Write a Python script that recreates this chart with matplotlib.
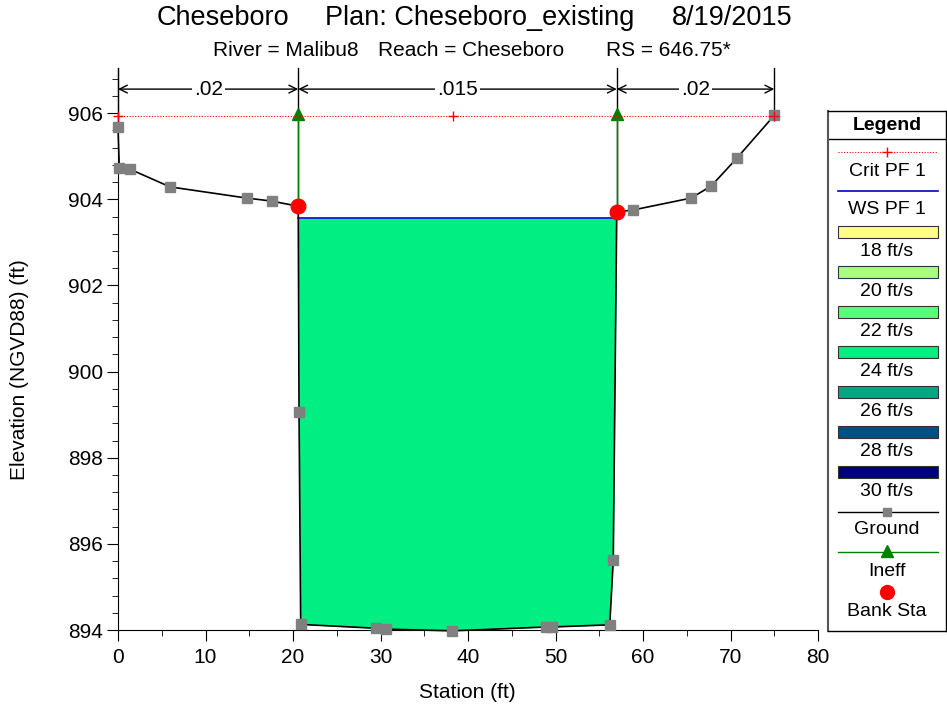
import numpy as np
import matplotlib
matplotlib.use("Agg")
import matplotlib.pyplot as plt
from matplotlib.patches import Rectangle

plt.rcParams['font.family'] = ['Liberation Sans', 'DejaVu Sans']

ground_sta = [0.0, 0.15, 1.37, 5.94, 14.7, 17.56, 20.6, 20.69, 20.88, 29.49, 30.63,
              38.2, 48.97, 49.6, 56.2, 56.6, 57.0, 58.8, 65.5, 67.8, 70.7, 75.0]
ground_elev = [905.68, 904.72, 904.70, 904.29, 904.03, 903.96, 903.84, 899.06, 894.13, 894.04, 894.02,
               893.98, 894.07, 894.07, 894.12, 895.62, 903.71, 903.75, 904.03, 904.31, 904.95, 905.95]
bank_sta = [20.6, 57.0]
bank_elev = [903.84, 903.71]
ineff_sta = [20.6, 57.0]
ineff_elev = [905.98, 905.98]
ws_elev = 903.56
crit_sta = [0.0, 38.3, 75.0]
crit_elev = [905.93, 905.93, 905.93]
n_sta = [0.0, 20.6, 57.0, 75.0]
n_vals = ['.02', '.015', '.02']

vel_labels = ['18 ft/s', '20 ft/s', '22 ft/s', '24 ft/s', '26 ft/s', '28 ft/s', '30 ft/s']
vel_colors = ['#FFFF80', '#AAFF7A', '#55FF80', '#00EE82', '#00A882', '#005080', '#000080']
fill_color = '#00EE82'

W, H = 947, 710
fig = plt.figure(figsize=(W / 100, H / 100), dpi=100)

def fx(px):
    return px / W

def fy(py):
    return 1 - py / H

ax = fig.add_axes([fx(118), fy(630), fx(818) - fx(118), fy(68) - fy(630)])
ytop = 907.05
ax.set_xlim(0, 80)
ax.set_ylim(894, ytop)

sta = np.array(ground_sta)
elev = np.array(ground_elev)

# flow area between banks
ch = (sta >= bank_sta[0]) & (sta <= bank_sta[1])
ax.fill_between(sta[ch], elev[ch], ws_elev, where=elev[ch] < ws_elev, interpolate=True,
                color=fill_color, lw=0, zorder=1)

# water surface line between the crossings
cross = []
for i in range(len(sta) - 1):
    if sta[i] < bank_sta[0] or sta[i + 1] > bank_sta[1]:
        continue
    e0, e1 = elev[i], elev[i + 1]
    if (e0 - ws_elev) * (e1 - ws_elev) < 0:
        cross.append(sta[i] + (ws_elev - e0) / (e1 - e0) * (sta[i + 1] - sta[i]))
ax.plot([cross[0], cross[-1]], [ws_elev, ws_elev], color='#0000CC', lw=1.2, zorder=2)

# roughness boundaries and labels
y_arrow = 906.56
for s in n_sta:
    e = np.interp(s, sta, elev)
    ax.plot([s, s], [e, ytop], color='black', lw=1, zorder=2, clip_on=False)
for i, lab in enumerate(n_vals):
    ax.annotate('', xy=(n_sta[i], y_arrow), xytext=(n_sta[i + 1], y_arrow),
                arrowprops=dict(arrowstyle='<->', color='black', lw=1, shrinkA=0, shrinkB=0,
                                mutation_scale=14))
    ax.text((n_sta[i] + n_sta[i + 1]) / 2, y_arrow, lab, fontsize=15, ha='center', va='center',
            bbox=dict(facecolor='white', edgecolor='none', pad=1.5), zorder=5)

# ground
ax.plot(sta, elev, color='black', lw=1.2, zorder=3, clip_on=False)
ax.plot(sta, elev, ls='none', marker='s', color='#808080', ms=6.5, zorder=4, clip_on=False)

# ineffective flow
for s, e, b in zip(ineff_sta, ineff_elev, bank_elev):
    ax.plot([s, s], [b, e], color='green', lw=1, zorder=3)
ax.plot(ineff_sta, ineff_elev, ls='none', marker='^', color='green', ms=9, zorder=5)

# bank stations
ax.plot(bank_sta, bank_elev, ls='none', marker='o', color='red', ms=10.5, zorder=6)

# critical depth
ax.plot(crit_sta, crit_elev, color='red', ls=(0, (1, 1.5)), lw=0.8, marker='+', ms=7, zorder=6,
        clip_on=False)

for sp in ['top', 'right']:
    ax.spines[sp].set_visible(False)
ax.set_xticks(np.arange(0, 81, 10))
ax.set_xticks(np.arange(0, 81, 5), minor=True)
ax.set_yticks(np.arange(894, 907, 2))
ax.set_yticks(np.arange(894, 907, 0.4), minor=True)
ax.tick_params(which='major', length=8, labelsize=15, direction='out')
ax.tick_params(which='minor', length=4.5, direction='out')
ax.tick_params(axis='x', pad=5)
ax.tick_params(axis='y', pad=3)

fig.text(fx(467), fy(693), 'Station (ft)', fontsize=15, ha='center', va='center')
fig.text(fx(20), fy(370), 'Elevation (NGVD88) (ft)', fontsize=15, ha='center', va='center',
         rotation=90)

# titles
fig.text(fx(157), fy(18), 'Cheseboro', fontsize=19.5, ha='left', va='center')
fig.text(fx(325), fy(18), 'Plan: Cheseboro_existing', fontsize=19.5, ha='left', va='center')
fig.text(fx(792), fy(18), '8/19/2015', fontsize=19.5, ha='right', va='center')
fig.text(fx(213), fy(50), 'River = Malibu8', fontsize=15, ha='left', va='center')
fig.text(fx(378), fy(50), 'Reach = Cheseboro', fontsize=15, ha='left', va='center')
fig.text(fx(606), fy(50), 'RS = 646.75*', fontsize=15, ha='left', va='center')

# legend panel, local pixel coordinates
lg = fig.add_axes([fx(828), fy(631), fx(946) - fx(828), fy(111) - fy(631)])
lg.set_xlim(0, 118)
lg.set_ylim(520, 0)
lg.set_xticks([])
lg.set_yticks([])
lg.patch.set_alpha(0)
for sp in lg.spines.values():
    sp.set_color('black')
    sp.set_linewidth(1)
lg.spines['left'].set_color('#555555')
lg.spines['left'].set_linewidth(1.5)
cx = 59
lfs = 14
lg.text(cx, 14, 'Legend', fontsize=14, weight='bold', ha='center', va='center')
lg.plot([0, 118], [28, 28], color='black', lw=1)
lg.plot([10, 110], [41, 41], color='red', ls=(0, (1, 1.5)), lw=0.8)
lg.plot([cx], [41], marker='+', color='red', ms=7)
lg.text(cx, 60, 'Crit PF 1', fontsize=lfs, ha='center', va='center')
lg.plot([10, 110], [80, 80], color='#0000CC', lw=1.2)
lg.text(cx, 99, 'WS PF 1', fontsize=lfs, ha='center', va='center')
for i, (lab, col) in enumerate(zip(vel_labels, vel_colors)):
    y0 = 115 + 40 * i
    lg.add_patch(Rectangle((10, y0), 100, 11.5, facecolor=col, edgecolor='#333333', lw=0.8))
    lg.text(cx, y0 + 25, lab, fontsize=lfs, ha='center', va='center')
lg.plot([10, 110], [401, 401], color='black', lw=1)
lg.plot([cx], [401], marker='s', color='#808080', ms=6)
lg.text(cx, 419, 'Ground', fontsize=lfs, ha='center', va='center')
lg.plot([10, 110], [441, 441], color='green', lw=1)
lg.plot([cx], [440], marker='^', color='green', ms=9)
lg.text(cx, 460, 'Ineff', fontsize=lfs, ha='center', va='center')
lg.plot([cx], [481], marker='o', color='red', ms=10)
lg.text(cx, 501, 'Bank Sta', fontsize=lfs, ha='center', va='center')

fig.savefig('out.png', dpi=100)
